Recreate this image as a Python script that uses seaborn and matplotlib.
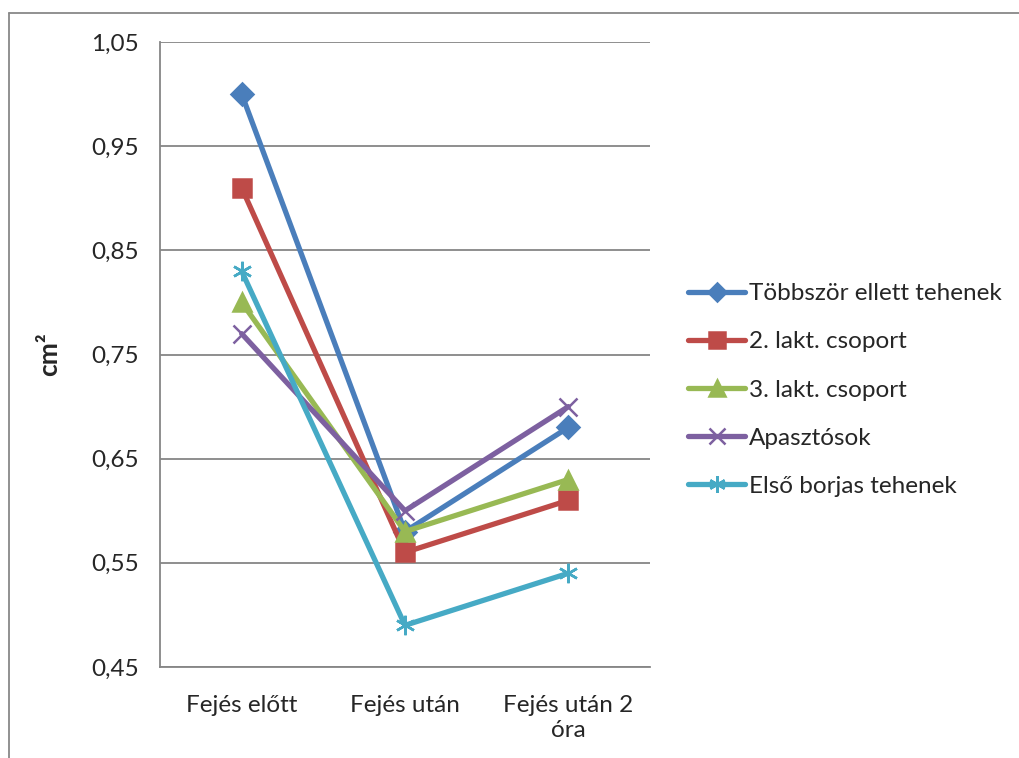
import numpy as np
import pandas as pd
import seaborn as sns
import matplotlib.pyplot as plt
from matplotlib.lines import Line2D

# Data
idopontok = ['Fejés előtt', 'Fejés után', 'Fejés után 2\nóra']
csoportok = ['Többször ellett tehenek', '2. lakt. csoport', '3. lakt. csoport',
             'Apasztósok', 'Első borjas tehenek']
tobbszor = [1.00, 0.58, 0.68]
lakt2 = [0.91, 0.56, 0.61]
lakt3 = [0.80, 0.58, 0.63]
apasztosok = [0.77, 0.60, 0.70]
elso_borjas = [0.83, 0.49, 0.54]
y_ticks = [0.45, 0.55, 0.65, 0.75, 0.85, 0.95, 1.05]

ertekek = [tobbszor, lakt2, lakt3, apasztosok, elso_borjas]
colors = ['#4A7EBB', '#BE4B48', '#98B954', '#7D60A0', '#46AAC5']
markers = ['D', 's', '^', 'x', (6, 2, 0)]
msizes = [11, 13, 13, 13, 14]

sns.set_style('white')
plt.rcParams['font.family'] = ['Lato', 'DejaVu Sans']

fig = plt.figure(figsize=(10.19, 7.58), dpi=100)
ax = fig.add_axes([160 / 1019, 1 - 667 / 758, 490 / 1019, 625 / 758])

for vals, name, c, m, ms in zip(ertekek, csoportok, colors, markers, msizes):
    df = pd.DataFrame({'idopont': idopontok, 'ertek': vals})
    sns.lineplot(data=df, x='idopont', y='ertek', ax=ax, color=c, linewidth=3.8,
                 marker=m, markersize=ms, markeredgecolor=c, markerfacecolor=c,
                 markeredgewidth=1.8, label=name, sort=False)

ax.set_xlim(-0.5, 2.5)
ax.set_ylim(0.45, 1.05)
ax.set_yticks(y_ticks)
ax.set_yticklabels([f'{v:.2f}'.replace('.', ',') for v in y_ticks], fontsize=17.5)
ax.set_xticks(range(3))
ax.set_xticklabels(idopontok, fontsize=17.5, linespacing=1.25)
ax.set_xticks([-0.5, 0.5, 1.5, 2.5], minor=True)
ax.tick_params(axis='x', which='major', length=0, pad=20)
ax.tick_params(axis='x', which='minor', length=7, width=1.3, color='#868686', direction='out')
ax.tick_params(axis='y', length=7, width=1.3, color='#868686', direction='out', pad=8)
ax.set_xlabel('')
ax.set_ylabel('cm²', fontsize=19, fontweight='bold', labelpad=22)

ax.grid(True, axis='y', color='#868686', linewidth=1.3)
ax.set_axisbelow(True)
for s in ['top', 'right']:
    ax.spines[s].set_visible(False)
for s in ['left', 'bottom']:
    ax.spines[s].set_color('#868686')
    ax.spines[s].set_linewidth(1.3)

leg = ax.legend(loc='center left', bbox_to_anchor=(688 / 1019, 1 - 390 / 758),
                bbox_transform=fig.transFigure, frameon=False, fontsize=17.5,
                handlelength=2.35, handletextpad=0.15, labelspacing=1.12,
                borderpad=0, borderaxespad=0, markerscale=0.85)

# outer chart frame (left and top edges)
fig.add_artist(Line2D([9 / 1019, 9 / 1019], [0, 1 - 13 / 758], color='#888888', lw=1.3))
fig.add_artist(Line2D([9 / 1019, 1], [1 - 13 / 758, 1 - 13 / 758], color='#888888', lw=1.3))

plt.savefig('out.png', dpi=100)
